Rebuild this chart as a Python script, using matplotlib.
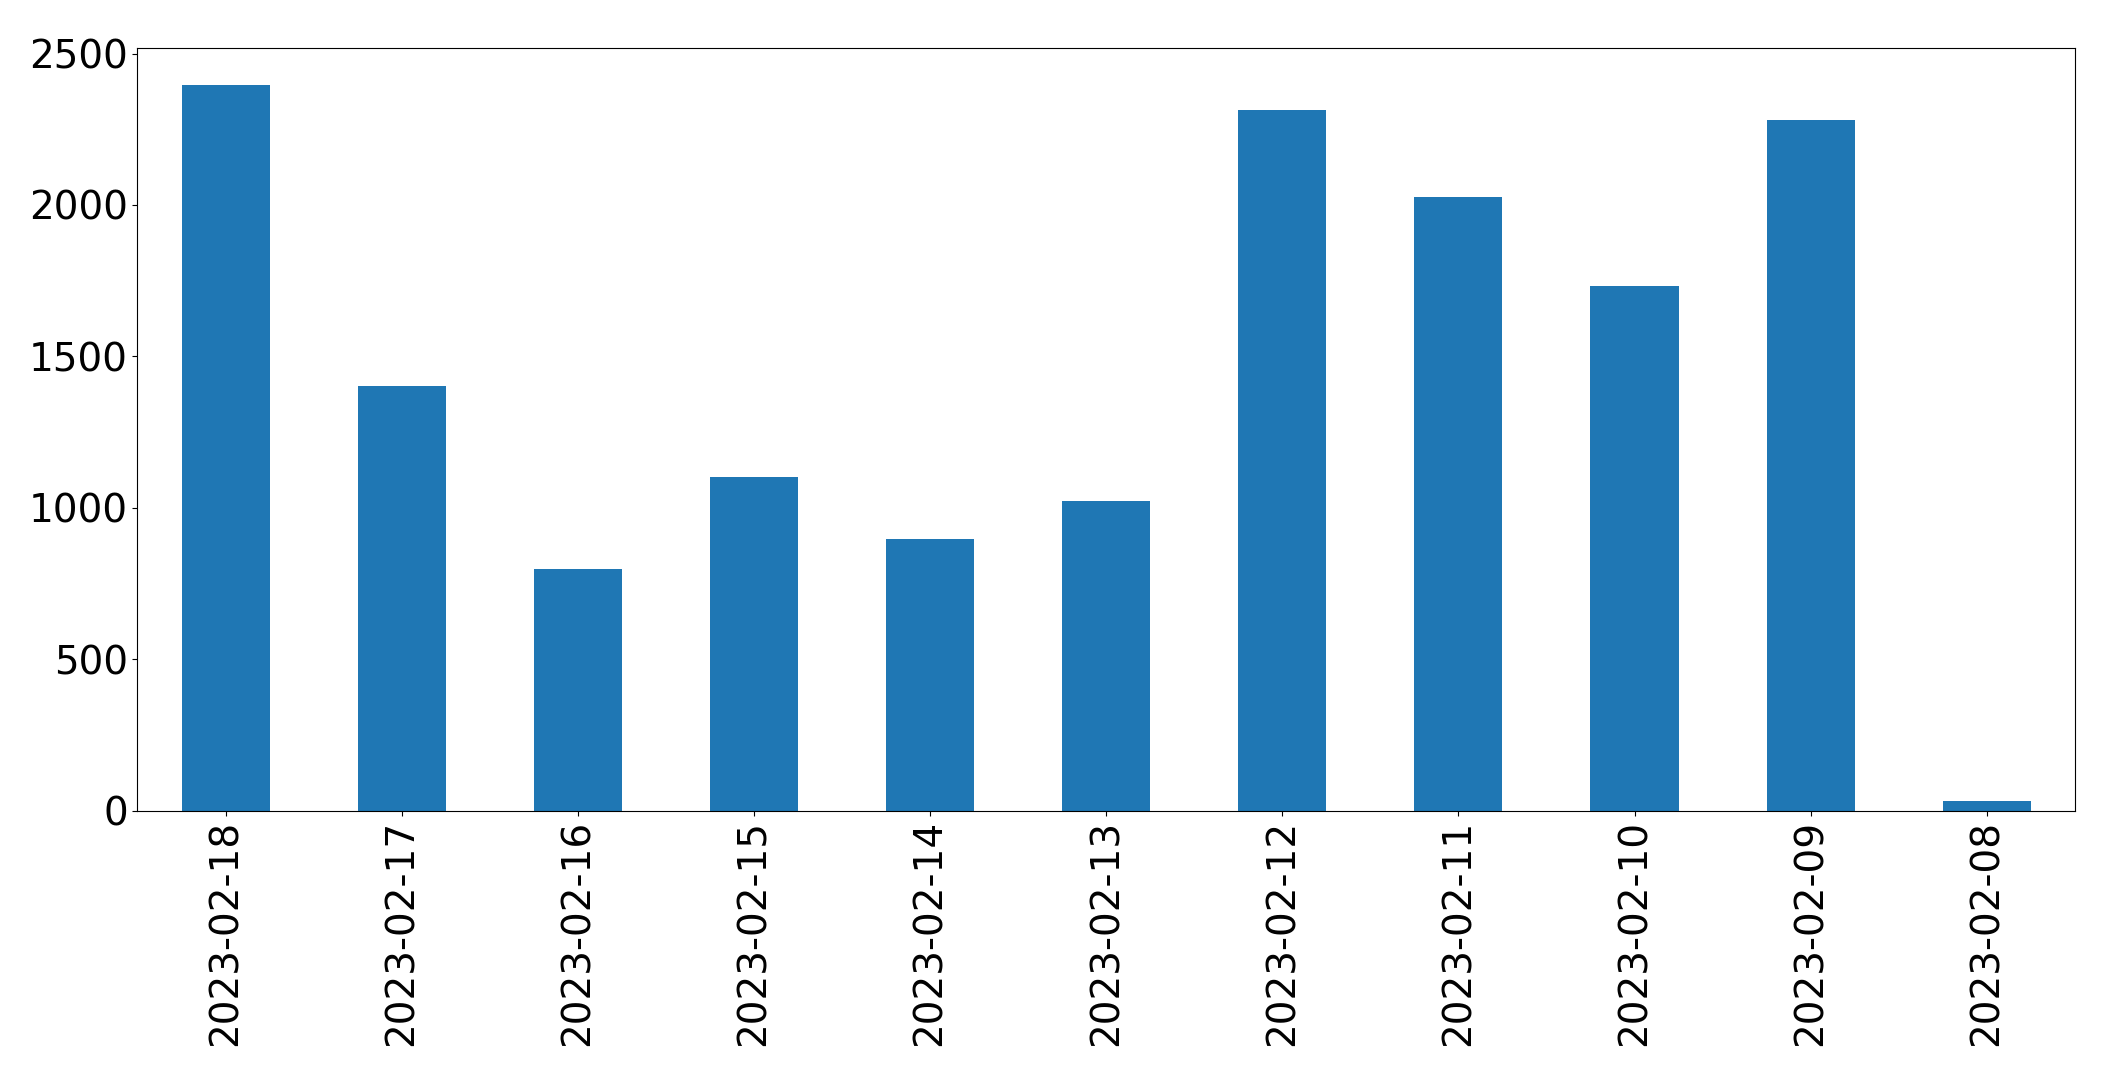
import matplotlib.pyplot as plt

dates = ['2023-02-18', '2023-02-17', '2023-02-16', '2023-02-15', '2023-02-14',
         '2023-02-13', '2023-02-12', '2023-02-11', '2023-02-10', '2023-02-09',
         '2023-02-08']
counts = [2395, 1402, 797, 1103, 898, 1022, 2313, 2028, 1732, 2282, 30]

fig = plt.figure(figsize=(21.15, 10.7), dpi=100)
ax = fig.add_axes([0.065, 0.2425, 0.916, 0.7125])
x = range(len(dates))
ax.bar(x, counts, width=0.5, color='#1f77b4')
ax.set_xticks(list(x))
ax.set_xticklabels(dates, rotation=90)
ax.set_xlim(-0.5, len(dates) - 0.5)
ax.set_ylim(0, 2518)
ax.tick_params(labelsize=28)
fig.savefig('out.png', dpi=100)
